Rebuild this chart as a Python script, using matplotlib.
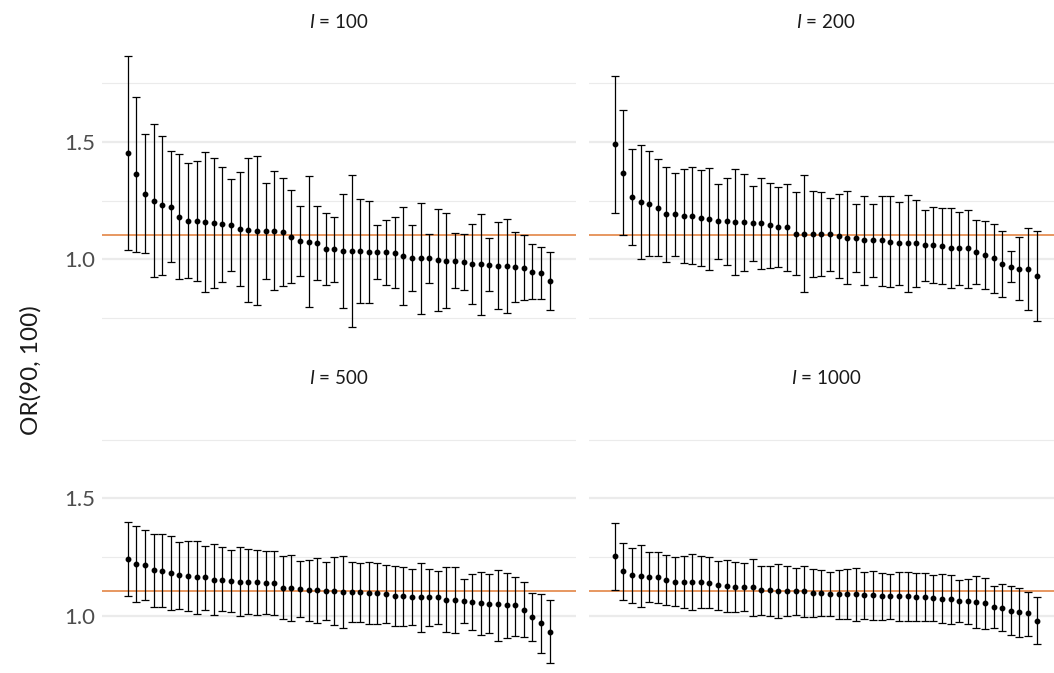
import numpy as np
import matplotlib
matplotlib.use("Agg")
import matplotlib.pyplot as plt
from matplotlib.ticker import FixedLocator

plt.rcParams['font.family'] = ['Lato', 'DejaVu Sans']
plt.rcParams['mathtext.fontset'] = 'custom'
plt.rcParams['mathtext.it'] = 'Lato:italic'
plt.rcParams['mathtext.rm'] = 'Lato'

# panel labels and true value line
panels = ["100", "200", "500", "1000"]
true_or = 1.105

# estimates, upper and lower CI for each panel (sorted by estimate)
est_100 = [1.454, 1.362, 1.278, 1.248, 1.230, 1.223, 1.181, 1.163, 1.163, 1.159,
           1.154, 1.149, 1.147, 1.128, 1.125, 1.122, 1.120, 1.120, 1.115, 1.096,
           1.076, 1.074, 1.068, 1.044, 1.042, 1.037, 1.035, 1.034, 1.032, 1.031,
           1.031, 1.028, 1.014, 1.006, 1.004, 1.004, 0.997, 0.994, 0.994, 0.989,
           0.980, 0.979, 0.977, 0.973, 0.970, 0.969, 0.963, 0.946, 0.940, 0.908]
up_100 = [1.867, 1.692, 1.532, 1.574, 1.526, 1.462, 1.448, 1.410, 1.417, 1.458,
          1.432, 1.393, 1.340, 1.371, 1.432, 1.440, 1.325, 1.374, 1.346, 1.296,
          1.227, 1.353, 1.225, 1.198, 1.180, 1.279, 1.359, 1.255, 1.250, 1.147,
          1.167, 1.180, 1.224, 1.145, 1.241, 1.109, 1.213, 1.196, 1.110, 1.108,
          1.152, 1.191, 1.089, 1.160, 1.171, 1.116, 1.102, 1.065, 1.051, 1.033]
lo_100 = [1.041, 1.031, 1.028, 0.925, 0.933, 0.987, 0.916, 0.919, 0.908, 0.862,
          0.876, 0.902, 0.952, 0.885, 0.818, 0.807, 0.918, 0.868, 0.886, 0.899,
          0.928, 0.797, 0.913, 0.891, 0.903, 0.794, 0.713, 0.813, 0.814, 0.918,
          0.892, 0.878, 0.806, 0.867, 0.769, 0.901, 0.780, 0.793, 0.876, 0.869,
          0.810, 0.763, 0.865, 0.787, 0.770, 0.820, 0.825, 0.832, 0.831, 0.784]

est_200 = [1.489, 1.369, 1.265, 1.244, 1.235, 1.220, 1.191, 1.191, 1.186, 1.186,
           1.176, 1.173, 1.162, 1.162, 1.160, 1.157, 1.153, 1.153, 1.145, 1.139,
           1.136, 1.109, 1.109, 1.108, 1.108, 1.108, 1.099, 1.092, 1.089, 1.081,
           1.081, 1.081, 1.075, 1.069, 1.069, 1.069, 1.061, 1.059, 1.055, 1.047,
           1.047, 1.048, 1.032, 1.020, 1.004, 0.982, 0.969, 0.960, 0.959, 0.927]
up_200 = [1.781, 1.635, 1.468, 1.486, 1.459, 1.427, 1.391, 1.369, 1.386, 1.391,
          1.380, 1.389, 1.320, 1.347, 1.386, 1.364, 1.312, 1.345, 1.323, 1.309,
          1.322, 1.288, 1.357, 1.292, 1.286, 1.262, 1.276, 1.291, 1.234, 1.271,
          1.237, 1.268, 1.269, 1.245, 1.275, 1.254, 1.211, 1.221, 1.217, 1.217,
          1.203, 1.211, 1.169, 1.162, 1.152, 1.122, 1.034, 1.095, 1.135, 1.119]
lo_200 = [1.197, 1.102, 1.062, 1.000, 1.014, 1.015, 0.990, 1.014, 0.984, 0.979,
          0.970, 0.954, 1.001, 0.976, 0.933, 0.949, 0.994, 0.960, 0.963, 0.967,
          0.949, 0.933, 0.862, 0.925, 0.929, 0.952, 0.920, 0.896, 0.946, 0.892,
          0.923, 0.888, 0.881, 0.892, 0.862, 0.884, 0.909, 0.899, 0.895, 0.878,
          0.891, 0.879, 0.896, 0.875, 0.858, 0.841, 0.902, 0.827, 0.786, 0.736]

est_500 = [1.243, 1.223, 1.217, 1.194, 1.193, 1.183, 1.173, 1.170, 1.165, 1.165,
           1.155, 1.155, 1.148, 1.146, 1.145, 1.143, 1.142, 1.139, 1.119, 1.119,
           1.115, 1.109, 1.109, 1.106, 1.105, 1.102, 1.102, 1.101, 1.098, 1.096,
           1.094, 1.084, 1.084, 1.079, 1.079, 1.079, 1.079, 1.070, 1.068, 1.062,
           1.058, 1.054, 1.051, 1.050, 1.045, 1.045, 1.027, 0.996, 0.969, 0.933]
up_500 = [1.400, 1.383, 1.365, 1.350, 1.349, 1.339, 1.316, 1.318, 1.321, 1.299,
          1.308, 1.292, 1.279, 1.292, 1.284, 1.282, 1.275, 1.275, 1.254, 1.260,
          1.235, 1.240, 1.245, 1.231, 1.251, 1.255, 1.231, 1.227, 1.231, 1.227,
          1.216, 1.211, 1.207, 1.200, 1.224, 1.201, 1.190, 1.210, 1.210, 1.156,
          1.177, 1.189, 1.177, 1.197, 1.184, 1.167, 1.145, 1.098, 1.095, 1.067]
lo_500 = [1.085, 1.061, 1.070, 1.040, 1.040, 1.026, 1.028, 1.021, 1.007, 1.027,
          1.004, 1.020, 1.018, 1.001, 1.007, 1.006, 1.010, 1.004, 0.987, 0.979,
          0.994, 0.979, 0.972, 0.983, 0.962, 0.949, 0.973, 0.974, 0.965, 0.966,
          0.972, 0.956, 0.956, 0.960, 0.933, 0.957, 0.966, 0.932, 0.929, 0.970,
          0.939, 0.919, 0.926, 0.895, 0.905, 0.916, 0.909, 0.895, 0.841, 0.799]

est_1000 = [1.254, 1.191, 1.174, 1.172, 1.167, 1.165, 1.153, 1.146, 1.146, 1.146,
            1.143, 1.142, 1.132, 1.129, 1.125, 1.125, 1.122, 1.109, 1.109, 1.106,
            1.106, 1.106, 1.105, 1.096, 1.096, 1.095, 1.094, 1.094, 1.094, 1.089,
            1.088, 1.085, 1.085, 1.084, 1.084, 1.082, 1.079, 1.078, 1.074, 1.071,
            1.065, 1.064, 1.058, 1.054, 1.037, 1.035, 1.021, 1.016, 1.011, 0.980]
up_1000 = [1.394, 1.309, 1.291, 1.304, 1.274, 1.272, 1.258, 1.252, 1.255, 1.265,
           1.254, 1.251, 1.235, 1.240, 1.231, 1.227, 1.244, 1.214, 1.213, 1.221,
           1.211, 1.206, 1.211, 1.200, 1.197, 1.189, 1.197, 1.200, 1.204, 1.189,
           1.193, 1.184, 1.179, 1.189, 1.186, 1.182, 1.182, 1.176, 1.179, 1.176,
           1.153, 1.159, 1.170, 1.163, 1.126, 1.135, 1.126, 1.119, 1.104, 1.081]
lo_1000 = [1.112, 1.070, 1.057, 1.038, 1.060, 1.057, 1.048, 1.041, 1.035, 1.026,
           1.033, 1.033, 1.027, 1.016, 1.018, 1.021, 1.000, 1.006, 1.001, 0.991,
           0.999, 1.004, 0.997, 0.997, 1.000, 1.001, 0.987, 0.986, 0.980, 0.987,
           0.982, 0.984, 0.987, 0.979, 0.980, 0.980, 0.979, 0.980, 0.972, 0.966,
           0.976, 0.967, 0.950, 0.946, 0.949, 0.936, 0.919, 0.912, 0.916, 0.879]

data = [(est_100, up_100, lo_100), (est_200, up_200, lo_200),
        (est_500, up_500, lo_500), (est_1000, up_1000, lo_1000)]

W, H = 1054, 673
fig = plt.figure(figsize=(W / 100, H / 100), dpi=100)

# panel boxes in pixels (left, top), they run a bit past the picture edge
lefts = [101.9, 588.9]
tops = [40.75, 397.45]
aw, ah = 473.6, 298.45

for i, (est, up, lo) in enumerate(data):
    r, c = divmod(i, 2)
    ax = fig.add_axes([lefts[c] / W, 1 - (tops[r] + ah) / H, aw / W, ah / H])
    est = np.array(est)
    x = np.arange(1, len(est) + 1)
    yerr = [est - np.array(lo), np.array(up) - est]

    ax.set_xlim(-2, 53)
    ax.set_ylim(0.66, 1.93)
    ax.yaxis.set_major_locator(FixedLocator([1.0, 1.5]))
    ax.yaxis.set_minor_locator(FixedLocator([0.75, 1.25, 1.75]))
    ax.grid(True, which='major', axis='y', color='#EBEBEB', lw=1.6)
    ax.grid(True, which='minor', axis='y', color='#EBEBEB', lw=0.8)
    ax.set_axisbelow(True)
    ax.set_xticks([])
    for s in ax.spines.values():
        s.set_visible(False)
    ax.tick_params(axis='y', which='both', length=0, pad=5,
                   labelsize=16, labelcolor='#4D4D4D')
    if c == 1:
        ax.tick_params(axis='y', labelleft=False)

    ax.axhline(true_or, color='#E07B35', lw=1.1, zorder=1)
    ax.errorbar(x, est, yerr=yerr, fmt='o', color='black', ms=3.2,
                elinewidth=0.9, capsize=3, capthick=0.9, zorder=3)
    ax.text(0.5, 1 + 19 / ah, f'$I$ = {panels[i]}', transform=ax.transAxes,
            ha='center', va='center', fontsize=13.5, color='#1A1A1A')

fig.text(31 / W, 1 - 370 / H, 'OR(90, 100)', rotation=90, ha='center',
         va='center', fontsize=17.5, color='#1A1A1A')

fig.savefig('out.png', dpi=100)
